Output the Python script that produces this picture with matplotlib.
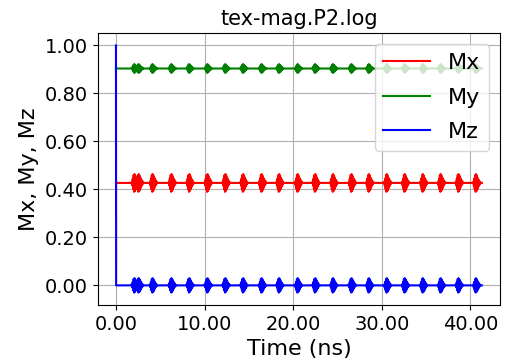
import matplotlib
matplotlib.use("Agg")
import matplotlib.pyplot as plt
import numpy as np
from matplotlib.ticker import FormatStrFormatter

# burst centres (ns)
burst_t = [2.05, 2.54, 4.10, 6.23, 8.24, 10.29, 12.31, 14.32, 16.41, 18.38,
           20.48, 22.45, 24.47, 26.55, 28.52, 30.54, 32.56, 34.61, 36.62,
           38.63, 40.60]

# steady values and burst half-heights for each component
base_x, amp_x = 0.427, 0.037
base_y, amp_y = 0.904, 0.018
base_z, amp_z = 0.0, 0.03
start_x, start_y, start_z = 0.427, 0.904, 1.0

# shape of one burst: time offsets (ns) and relative swing
shape_dt = [-0.30, -0.25, -0.20, -0.15, -0.10, -0.05, 0.00, 0.05, 0.10,
            0.15, 0.20, 0.25, 0.30, 0.35, 0.40, 0.45, 0.50, 0.55, 0.60]
shape_val = [0.0, 0.15, -0.3, 0.5, -0.7, 0.9, -1.0, 1.0, -0.9, 0.8,
             -0.7, 0.55, -0.45, 0.35, -0.25, 0.18, -0.1, 0.05, 0.0]
t_end = 41.3


def build(start, base, amp):
    t = [0.0, 0.02]
    v = [start, base]
    for c in burst_t:
        for dt, s in zip(shape_dt, shape_val):
            t.append(c + dt)
            v.append(base + amp * s)
    t.append(t_end)
    v.append(base)
    return np.array(t), np.array(v)


tx, mx = build(start_x, base_x, amp_x)
ty, my = build(start_y, base_y, amp_y)
tz, mz = build(start_z, base_z, amp_z)

fig = plt.figure(figsize=(5.14, 3.6), dpi=100)
ax = fig.add_axes([0.19, 0.153, 0.783, 0.755])
ax.plot(tx, mx, color="red", lw=1.5, label="Mx")
ax.plot(ty, my, color="green", lw=1.5, label="My")
ax.plot(tz, mz, color="blue", lw=1.5, label="Mz")

ax.set_title("tex-mag.P2.log", fontsize=15)
ax.set_xlabel("Time (ns)", fontsize=16)
ax.set_ylabel("Mx, My, Mz", fontsize=16)
ax.set_xticks([0, 10, 20, 30, 40])
ax.set_yticks([0, 0.2, 0.4, 0.6, 0.8, 1.0])
ax.xaxis.set_major_formatter(FormatStrFormatter("%.2f"))
ax.yaxis.set_major_formatter(FormatStrFormatter("%.2f"))
ax.tick_params(labelsize=14)
ax.grid(True)
ax.legend(loc="upper right", fontsize=16, labelspacing=0.65,
          handlelength=2.1)

fig.savefig("out.png", dpi=100)
